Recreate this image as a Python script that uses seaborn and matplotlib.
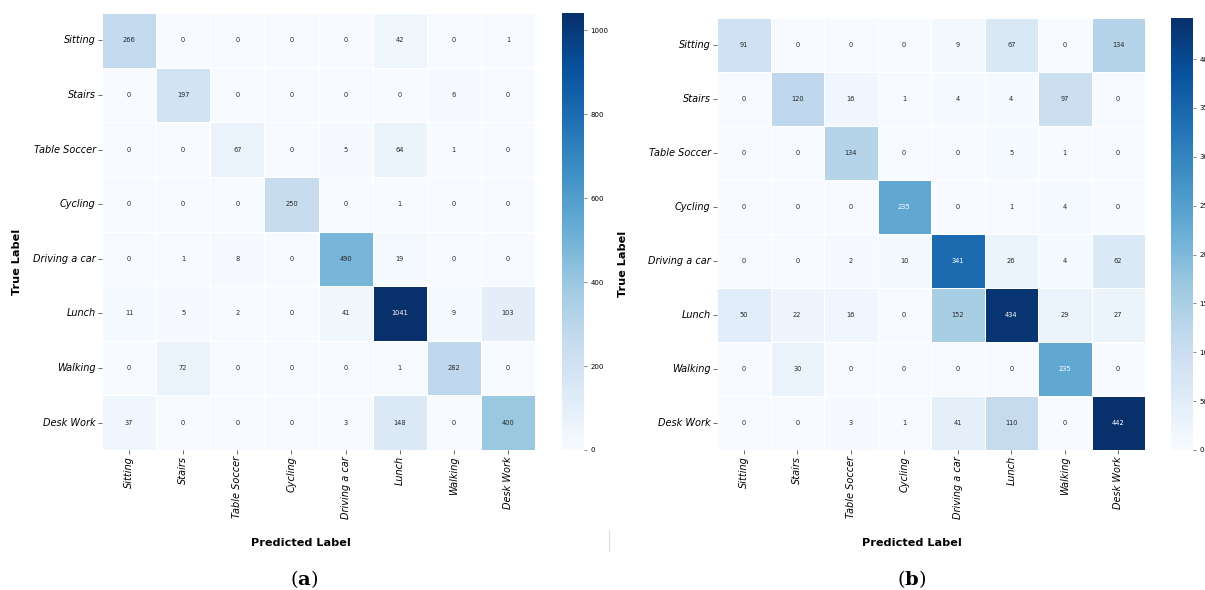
import numpy as np
import pandas as pd
import matplotlib
matplotlib.use("Agg")
import matplotlib.pyplot as plt
from matplotlib.lines import Line2D
import seaborn as sns

plt.rcParams["mathtext.fontset"] = "dejavuserif"

# Activity classes (rows = true, columns = predicted)
classes = ["Sitting", "Stairs", "Table Soccer", "Cycling",
           "Driving a car", "Lunch", "Walking", "Desk Work"]

# (a) confusion counts
cm_a_sitting = [266, 0, 0, 0, 0, 42, 0, 1]
cm_a_stairs = [0, 197, 0, 0, 0, 0, 6, 0]
cm_a_table_soccer = [0, 0, 67, 0, 5, 64, 1, 0]
cm_a_cycling = [0, 0, 0, 250, 0, 1, 0, 0]
cm_a_driving = [0, 1, 8, 0, 490, 19, 0, 0]
cm_a_lunch = [11, 5, 2, 0, 41, 1041, 9, 103]
cm_a_walking = [0, 72, 0, 0, 0, 1, 282, 0]
cm_a_desk_work = [37, 0, 0, 0, 3, 148, 0, 400]

# (b) confusion counts
cm_b_sitting = [91, 0, 0, 0, 9, 67, 0, 134]
cm_b_stairs = [0, 120, 16, 1, 4, 4, 97, 0]
cm_b_table_soccer = [0, 0, 134, 0, 0, 5, 1, 0]
cm_b_cycling = [0, 0, 0, 235, 0, 1, 4, 0]
cm_b_driving = [0, 0, 2, 10, 341, 26, 4, 62]
cm_b_lunch = [50, 22, 16, 0, 152, 434, 29, 27]
cm_b_walking = [0, 30, 0, 0, 0, 0, 235, 0]
cm_b_desk_work = [0, 0, 3, 1, 41, 110, 0, 442]

cbar_ticks_a = [0, 200, 400, 600, 800, 1000]
cbar_ticks_b = [0, 50, 100, 150, 200, 250, 300, 350, 400]

cm_a = pd.DataFrame([cm_a_sitting, cm_a_stairs, cm_a_table_soccer, cm_a_cycling,
                     cm_a_driving, cm_a_lunch, cm_a_walking, cm_a_desk_work],
                    index=classes, columns=classes)
cm_b = pd.DataFrame([cm_b_sitting, cm_b_stairs, cm_b_table_soccer, cm_b_cycling,
                     cm_b_driving, cm_b_lunch, cm_b_walking, cm_b_desk_work],
                    index=classes, columns=classes)

W, H = 1205, 590
fig = plt.figure(figsize=(W / 100, H / 100), dpi=100)


def px_axes(x0, y0, x1, y1):
    return fig.add_axes([x0 / W, 1 - y1 / H, (x1 - x0) / W, (y1 - y0) / H])


panels = [
    dict(cm=cm_a, ax=(102, 13, 535, 450), cax=(562, 13, 584, 450),
         ticks=cbar_ticks_a, ylab=(22.5, 262), xlab=(301, 537.5), cap="a", cap_x=304),
    dict(cm=cm_b, ax=(717, 18, 1145, 450), cax=(1171, 18, 1193, 450),
         ticks=cbar_ticks_b, ylab=(628.5, 264), xlab=(912, 537.5), cap="b", cap_x=912),
]

for p in panels:
    ax = px_axes(*p["ax"])
    cax = px_axes(*p["cax"])
    sns.heatmap(p["cm"], ax=ax, cbar_ax=cax, cmap="Blues", annot=True, fmt="d",
                annot_kws={"fontsize": 4.8}, linewidths=0.6, linecolor="white",
                cbar_kws={"ticks": p["ticks"]})
    ax.set_xticklabels(classes, rotation=90, fontsize=7, style="italic")
    ax.set_yticklabels(classes, rotation=0, fontsize=7, style="italic")
    ax.tick_params(axis="both", length=3, width=0.6, color="#555555", pad=1.5)
    ax.set_xlabel("Predicted Label", fontsize=8.1, fontweight="bold")
    ax.set_ylabel("True Label", fontsize=8.1, fontweight="bold")
    x0, y0, x1, y1 = p["ax"]
    ax.xaxis.set_label_coords((p["xlab"][0] - x0) / (x1 - x0), (y1 - p["xlab"][1]) / (y1 - y0))
    ax.yaxis.set_label_coords((p["ylab"][0] - x0) / (x1 - x0), (y1 - p["ylab"][1]) / (y1 - y0))
    cax.tick_params(labelsize=5, length=2.5, width=0.5, color="#555555", pad=2)
    fig.text(p["cap_x"] / W, 1 - 579 / H, r"($\mathbf{%s}$)" % p["cap"],
             ha="center", va="center", fontsize=14, family="DejaVu Serif")

# thin separator stub between the two panels
fig.add_artist(Line2D([609 / W, 609 / W], [1 - 530 / H, 1 - 551 / H],
                      transform=fig.transFigure, color="#dddddd", linewidth=0.8))

fig.savefig("out.png", dpi=100)
